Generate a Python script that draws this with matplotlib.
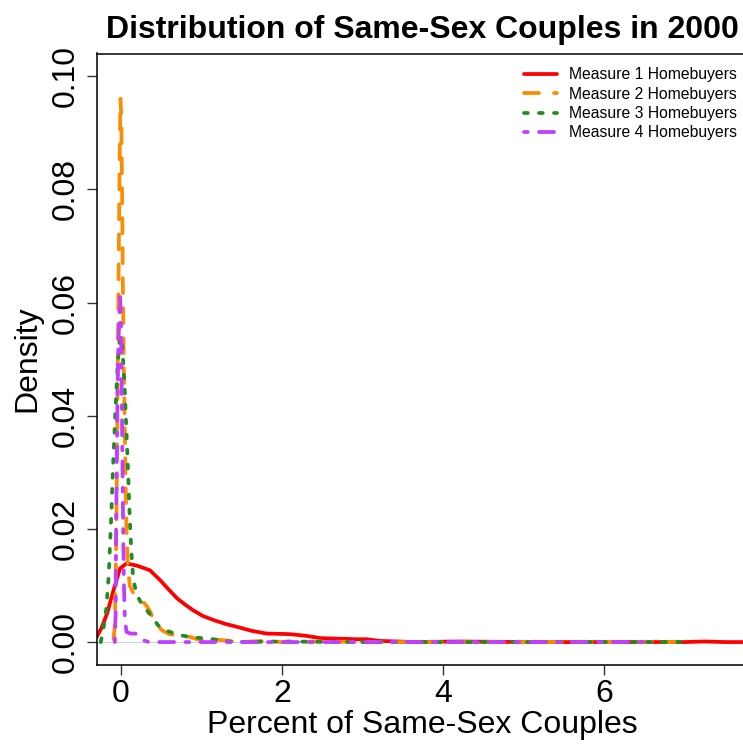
import matplotlib
matplotlib.use("Agg")
import matplotlib.pyplot as plt

plt.rcParams["font.family"] = ["Liberation Sans", "DejaVu Sans"]

# density curves read per measure (x = percent, y = density)
m1_x = [-0.30, -0.24, -0.17, -0.09, -0.01, 0.07, 0.20, 0.36, 0.49, 0.60, 0.70, 0.80,
        0.90, 1.02, 1.15, 1.30, 1.44, 1.62, 1.81, 2.10, 2.30, 2.48, 2.70, 2.93,
        3.05, 3.22, 3.45, 3.63, 4.2, 5.0, 5.8, 6.5, 7.0, 7.25, 7.5, 7.9]
m1_y = [0.0009, 0.0025, 0.0051, 0.0092, 0.0130, 0.0139, 0.0135, 0.0127, 0.0109,
        0.0092, 0.0077, 0.0066, 0.0056, 0.0046, 0.0039, 0.0032, 0.0027, 0.0020,
        0.0015, 0.0014, 0.0011, 0.0007, 0.0006, 0.0005, 0.0005, 0.0002, 0.0001,
        0.0000, 0.0001, 0.0000, 0.0000, 0.0000, 0.0000, 0.0001, 0.0000, 0.0000]

m2_x = [-0.09, -0.075, -0.065, -0.055, -0.045, -0.03, -0.015, -0.005, 0.005, 0.015,
        0.025, 0.04, 0.055, 0.07, 0.085, 0.11, 0.15, 0.19, 0.25, 0.32, 0.36, 0.40,
        0.45, 0.51, 0.60, 0.74, 0.86, 0.95, 1.07, 1.20, 1.30, 1.44, 1.80, 2.0,
        2.5, 3.0, 4.0, 5.0, 6.0, 6.9]
m2_y = [0.0005, 0.003, 0.010, 0.022, 0.038, 0.062, 0.085, 0.096, 0.093, 0.080,
        0.063, 0.045, 0.032, 0.020, 0.014, 0.010, 0.0088, 0.0082, 0.0075, 0.0064,
        0.0055, 0.0042, 0.0030, 0.0021, 0.0014, 0.0011, 0.0009, 0.0005, 0.0002,
        0.0004, 0.0003, 0.0, 0.0002, 0.0, 0.0001, 0.0, 0.0, 0.0, 0.0, 0.0]

m3_x = [-0.25, -0.22, -0.18, -0.15, -0.12, -0.10, -0.07, -0.04, -0.01, 0.02, 0.05,
        0.07, 0.09, 0.11, 0.13, 0.15, 0.17, 0.21, 0.27, 0.33, 0.40, 0.46, 0.53,
        0.61, 0.70, 0.86, 1.00, 1.15, 1.30, 1.40, 2.0, 3.0, 4.0, 5.0, 6.0, 6.95]
m3_y = [0.0, 0.002, 0.006, 0.012, 0.022, 0.030, 0.040, 0.049, 0.054, 0.052, 0.044,
        0.037, 0.030, 0.022, 0.016, 0.012, 0.010, 0.0080, 0.0065, 0.0055, 0.0042,
        0.0030, 0.0022, 0.0018, 0.0013, 0.0009, 0.0007, 0.0005, 0.0002, 0.0,
        0.0001, 0.0, 0.0, 0.0, 0.0, 0.0]

m4_x = [-0.075, -0.065, -0.06, -0.045, -0.03, -0.01, 0.0, 0.01, 0.02, 0.03, 0.04,
        0.05, 0.07, 0.12, 0.18, 0.22, 0.28, 0.35, 1.0, 2.0, 4.0, 6.5]
m4_y = [0.0, 0.005, 0.018, 0.040, 0.053, 0.061, 0.058, 0.045, 0.032, 0.018, 0.009,
        0.004, 0.0018, 0.0015, 0.0015, 0.0010, 0.0003, 0.0, 0.0, 0.0, 0.0, 0.0]

labels = ["Measure 1 Homebuyers", "Measure 2 Homebuyers",
          "Measure 3 Homebuyers", "Measure 4 Homebuyers"]
colors = ["#ff0000", "#ff8c00", "#228b22", "#bf3eff"]
dashes = [None, (4, 4), (1, 3), (1, 3, 4, 3)]

fig = plt.figure(figsize=(7.43, 7.44), dpi=100)
ax = fig.add_axes([96.7 / 743, 1 - 664.7 / 744, (748 - 96.7) / 743, (664.7 - 53.5) / 744])

ax.axhline(0, color="#bebebe", lw=0.5, zorder=1)
series = [(m1_x, m1_y), (m2_x, m2_y), (m3_x, m3_y), (m4_x, m4_y)]
for (xs, ys), lab, col, ds in zip(series, labels, colors, dashes):
    line, = ax.plot(xs, ys, color=col, lw=2.7, label=lab,
                    solid_capstyle="round", dash_capstyle="round")
    if ds is not None:
        line.set_dashes(ds)

ax.set_xlim(-0.30, 7.79)
ax.set_ylim(-0.004, 0.104)
ax.set_xticks([0, 2, 4, 6])
ax.set_yticks([0.0, 0.02, 0.04, 0.06, 0.08, 0.10])
ax.set_yticklabels(["0.00", "0.02", "0.04", "0.06", "0.08", "0.10"],
                   rotation=90, va="center")
ax.tick_params(axis="both", length=7.2, width=1, color="#333333", labelsize=23)
ax.tick_params(axis="x", pad=3)
ax.tick_params(axis="y", pad=4)
for sp in ax.spines.values():
    sp.set_linewidth(1.1)

ax.set_title("Distribution of Same-Sex Couples in 2000", fontsize=23,
             fontweight="bold", pad=11.5)
ax.set_xlabel("Percent of Same-Sex Couples", fontsize=23, labelpad=1)
ax.set_ylabel("Density", fontsize=23, labelpad=6)

leg = ax.legend(loc="upper right", frameon=False, handlelength=2.1,
                prop={"size": 11.3}, borderaxespad=0.0,
                labelspacing=0.28, handletextpad=0.8,
                bbox_to_anchor=(743 / 748, 1 - 7.5 / 611))

fig.savefig("out.png", dpi=100)
